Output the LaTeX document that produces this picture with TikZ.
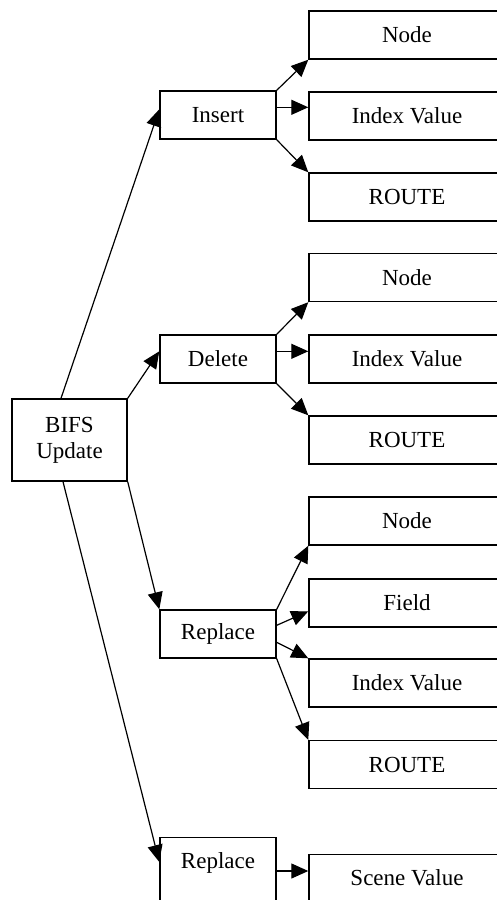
\documentclass[tikz,border=0pt]{standalone}
\usepackage{fontspec}
\setmainfont{Liberation Serif}
\usetikzlibrary{arrows.meta,calc}
\tikzset{
  box/.style={draw, line width=1.4pt, rectangle, inner sep=0pt, font=\fontsize{23}{26}\selectfont, align=center},
  midbox/.style={box, minimum width=116pt, minimum height=48pt},
  leafbox/.style={box, minimum width=196pt, minimum height=48pt},
  arr/.style={line width=1.2pt, -{Triangle[length=17pt,width=15pt]}}
}
\begin{document}
\begin{tikzpicture}[x=1pt,y=-1pt]
  \useasboundingbox (0,0) rectangle (497,900);
  \clip (0,0) rectangle (497,900);

  % root
  \node[box, minimum width=115pt, minimum height=82pt] (bifs) at (69.5,440) {BIFS\\Update};

  % second level
  \node[midbox] (ins)  at (218,115) {Insert};
  \node[midbox] (del)  at (218,359) {Delete};
  \node[midbox] (rep)  at (218,634) {Replace};
  \node[midbox, anchor=north, text height=31pt, text depth=60pt] (reps) at (218,837) {Replace};

  % leaves under Insert
  \node[leafbox] (insnode)  at (407,35)  {Node};
  \node[leafbox] (insidx)   at (407,116) {Index Value};
  \node[leafbox] (insroute) at (407,197) {ROUTE};

  % leaves under Delete
  \node[leafbox] (delnode)  at (407,277.5) {Node};
  \node[leafbox] (delidx)   at (407,359)   {Index Value};
  \node[leafbox] (delroute) at (407,440)   {ROUTE};

  % leaves under Replace
  \node[leafbox] (repnode)  at (407,521)   {Node};
  \node[leafbox] (repfield) at (407,603)   {Field};
  \node[leafbox] (repidx)   at (407,683)   {Index Value};
  \node[leafbox] (reproute) at (407,764.5) {ROUTE};

  % scene replacement
  \node[leafbox, anchor=north, text height=31pt, text depth=60pt] (scene) at (407,854) {Scene Value};

  % root to second level
  \draw[arr] ($(bifs.north)+(-8.5,0)$) -- ($(ins.north west)+(0,19)$);
  \draw[arr] (bifs.north east) -- ($(del.north west)+(0,17)$);
  \draw[arr] (bifs.south east) -- (rep.north west);
  \draw[arr] ($(bifs.south)+(-6.5,0)$) -- ($(reps.north west)+(0,25)$);

  % Insert branches
  \draw[arr] (ins.north east) -- (insnode.south west);
  \draw[arr] ($(ins.north east)+(0,17)$) -- ($(insidx.north west)+(0,16)$);
  \draw[arr] (ins.south east) -- (insroute.north west);

  % Delete branches
  \draw[arr] (del.north east) -- (delnode.south west);
  \draw[arr] ($(del.north east)+(0,17)$) -- ($(delidx.north west)+(0,17)$);
  \draw[arr] (del.south east) -- (delroute.north west);

  % Replace branches
  \draw[arr] (rep.north east) -- (repnode.south west);
  \draw[arr] ($(rep.north east)+(0,16)$) -- ($(repfield.north west)+(0,33)$);
  \draw[arr] ($(rep.north east)+(0,33)$) -- (repidx.north west);
  \draw[arr] (rep.south east) -- (reproute.north west);

  % Replace to Scene Value
  \draw[arr] ($(reps.north east)+(0,34)$) -- ($(scene.north west)+(0,17)$);
\end{tikzpicture}
\end{document}
